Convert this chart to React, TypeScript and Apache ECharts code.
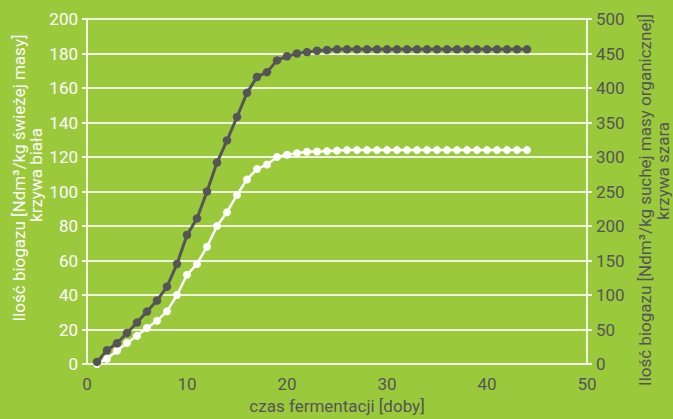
import React, { useEffect, useRef } from "react";
import * as echarts from "echarts";

const days = [
  1, 2, 3, 4, 5, 6, 7, 8, 9, 10, 11, 12, 13, 14, 15, 16, 17, 18, 19, 20, 21, 22,
  23, 24, 25, 26, 27, 28, 29, 30, 31, 32, 33, 34, 35, 36, 37, 38, 39, 40, 41, 42, 43, 44,
];

// white curve, left axis [Ndm3/kg fresh mass]
const whiteValues = [
  0, 3, 7.7, 12.2, 16.3, 20.9, 25.1, 30.5, 40, 51.7, 58, 68, 80, 88, 98, 107, 113,
  115.7, 120, 121.3, 122.2, 123, 123.2, 123.4, 123.7, 124, 124, 124, 124, 124, 124,
  124, 124, 124, 124, 124, 124, 124, 124, 124, 124, 124, 124, 124,
];

// grey curve, right axis [Ndm3/kg organic dry mass]
const greyValues = [
  3, 20, 30, 45, 60, 76, 92, 112, 145, 187, 211, 250, 292, 324, 358, 393, 416, 423,
  440, 446, 450, 452, 454, 455, 456, 456, 456, 456, 456, 456, 456, 456, 456, 456,
  456, 456, 456, 456, 456, 456, 456, 456, 456, 456,
];

const xTitle = "czas fermentacji [doby]";
const leftTitle = ["Ilość biogazu [Ndm³/kg świeżej masy]", "krzywa biała"];
const rightTitle = ["Ilość biogazu [Ndm³/kg suchej masy organicznej]", "krzywa szara"];

const BG = "#9bc93c";
const GREY = "#555557";
const FONT = "Roboto";

export default function App() {
  const ref = useRef<HTMLDivElement>(null);
  useEffect(() => {
    if (!ref.current) return;
    const chart = echarts.init(ref.current, undefined, { renderer: "svg" });
    const whiteData = days.map((d, i) => [d, whiteValues[i]]);
    const greyData = days.map((d, i) => [d, greyValues[i]]);
    const title = (text: string, x: number, y: number, fill: string) => ({
      type: "text",
      x,
      y,
      rotation: Math.PI / 2,
      style: {
        text,
        fill,
        fontSize: 17,
        fontFamily: FONT,
        textAlign: "center",
        textVerticalAlign: "middle",
      },
    });
    chart.setOption({
      animation: false,
      backgroundColor: BG,
      textStyle: { fontFamily: FONT },
      grid: { left: 87, right: 86, top: 19, bottom: 52 },
      xAxis: {
        type: "value",
        min: 0,
        max: 50,
        interval: 10,
        axisLine: { show: true, lineStyle: { color: "#f2f6e6", width: 2 } },
        axisTick: { show: false },
        splitLine: { show: false },
        axisLabel: { color: GREY, fontSize: 17, margin: 11, fontFamily: FONT },
        name: xTitle,
        nameLocation: "middle",
        nameGap: 33,
        nameTextStyle: { color: GREY, fontSize: 17, fontFamily: FONT },
      },
      yAxis: [
        {
          type: "value",
          min: 0,
          max: 200,
          interval: 20,
          position: "left",
          axisLine: { show: true, lineStyle: { color: "#f2f6e6", width: 2 } },
          axisTick: { show: true, length: 5, lineStyle: { color: "#f2f6e6", width: 2 } },
          axisLabel: { color: "#ffffff", fontSize: 17, margin: 9, fontFamily: FONT },
          splitLine: { show: true, lineStyle: { color: "#eef3dd", width: 2 } },
        },
        {
          type: "value",
          min: 0,
          max: 500,
          interval: 50,
          position: "right",
          axisLine: { show: true, lineStyle: { color: "#f2f6e6", width: 2 } },
          axisTick: { show: true, length: 5, lineStyle: { color: "#f2f6e6", width: 2 } },
          axisLabel: { color: GREY, fontSize: 17, margin: 9, fontFamily: FONT },
          splitLine: { show: false },
        },
      ],
      graphic: [
        title(leftTitle[0], 19, 178, "#ffffff"),
        title(leftTitle[1], 36, 175, "#ffffff"),
        title(rightTitle[0], 645, 200, GREY),
        title(rightTitle[1], 663, 171, GREY),
      ],
      series: [
        {
          type: "line",
          yAxisIndex: 0,
          data: whiteData,
          symbol: "circle",
          symbolSize: 8,
          lineStyle: { color: "#ffffff", width: 2.5 },
          itemStyle: { color: "#ffffff" },
        },
        {
          type: "line",
          yAxisIndex: 1,
          data: greyData,
          symbol: "circle",
          symbolSize: 8.5,
          lineStyle: { color: GREY, width: 3 },
          itemStyle: { color: GREY },
        },
      ],
    });
    return () => chart.dispose();
  }, []);
  return (
    <div
      ref={ref}
      style={{ position: "fixed", left: 0, top: 0, width: 673, height: 419 }}
    />
  );
}
